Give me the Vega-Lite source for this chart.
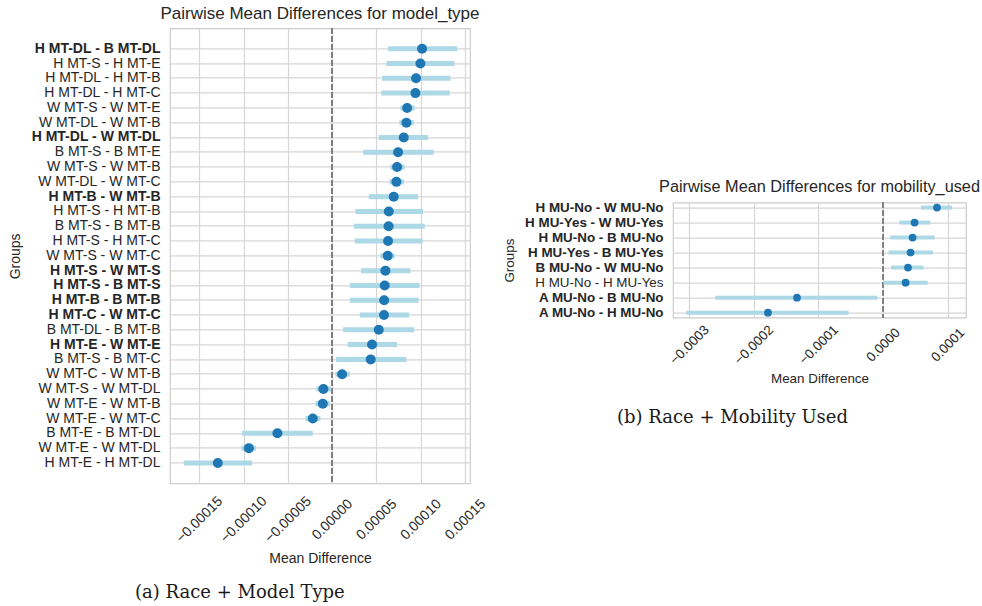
{
  "$schema": "https://vega.github.io/schema/vega-lite/v6.json",
  "padding": {"left": 8, "top": 4, "right": 4, "bottom": 4},
  "background": "white",
  "datasets": {
    "model": [
      {"group": "H MT-DL - B MT-DL", "diff": 1.016e-4, "lo": 6.32e-5, "hi": 1.411e-4},
      {"group": "H MT-S - H MT-E", "diff": 9.97e-5, "lo": 6.13e-5, "hi": 1.381e-4},
      {"group": "H MT-DL - H MT-B", "diff": 9.48e-5, "lo": 5.64e-5, "hi": 1.336e-4},
      {"group": "H MT-DL - H MT-C", "diff": 9.41e-5, "lo": 5.57e-5, "hi": 1.328e-4},
      {"group": "W MT-S - W MT-E", "diff": 8.47e-5, "lo": 7.71e-5, "hi": 9.33e-5},
      {"group": "W MT-DL - W MT-B", "diff": 8.39e-5, "lo": 7.6e-5, "hi": 9.22e-5},
      {"group": "H MT-DL - W MT-DL", "diff": 8.09e-5, "lo": 5.27e-5, "hi": 1.084e-4},
      {"group": "B MT-S - B MT-E", "diff": 7.45e-5, "lo": 3.5e-5, "hi": 1.148e-4},
      {"group": "W MT-S - W MT-B", "diff": 7.34e-5, "lo": 6.58e-5, "hi": 8.2e-5},
      {"group": "W MT-DL - W MT-C", "diff": 7.26e-5, "lo": 6.47e-5, "hi": 8.13e-5},
      {"group": "H MT-B - W MT-B", "diff": 6.96e-5, "lo": 4.14e-5, "hi": 9.71e-5},
      {"group": "H MT-S - H MT-B", "diff": 6.4e-5, "lo": 2.63e-5, "hi": 1.027e-4},
      {"group": "B MT-S - B MT-B", "diff": 6.38e-5, "lo": 2.45e-5, "hi": 1.046e-4},
      {"group": "H MT-S - H MT-C", "diff": 6.32e-5, "lo": 2.56e-5, "hi": 1.023e-4},
      {"group": "W MT-S - W MT-C", "diff": 6.28e-5, "lo": 5.46e-5, "hi": 7.07e-5},
      {"group": "H MT-S - W MT-S", "diff": 6.02e-5, "lo": 3.27e-5, "hi": 8.84e-5},
      {"group": "H MT-S - B MT-S", "diff": 5.94e-5, "lo": 2.0e-5, "hi": 9.86e-5},
      {"group": "H MT-B - B MT-B", "diff": 5.88e-5, "lo": 2.0e-5, "hi": 9.78e-5},
      {"group": "H MT-C - W MT-C", "diff": 5.86e-5, "lo": 3.12e-5, "hi": 8.69e-5},
      {"group": "B MT-DL - B MT-B", "diff": 5.27e-5, "lo": 1.24e-5, "hi": 9.26e-5},
      {"group": "H MT-E - W MT-E", "diff": 4.51e-5, "lo": 1.77e-5, "hi": 7.34e-5},
      {"group": "B MT-S - B MT-C", "diff": 4.36e-5, "lo": 4.5e-6, "hi": 8.39e-5},
      {"group": "W MT-C - W MT-B", "diff": 1.13e-5, "lo": 3.8e-6, "hi": 2.0e-5},
      {"group": "W MT-S - W MT-DL", "diff": -9.8e-6, "lo": -1.77e-5, "hi": -1.1e-6},
      {"group": "W MT-E - W MT-B", "diff": -1.05e-5, "lo": -1.88e-5, "hi": -2.6e-6},
      {"group": "W MT-E - W MT-C", "diff": -2.18e-5, "lo": -3.01e-5, "hi": -1.32e-5},
      {"group": "B MT-E - B MT-DL", "diff": -6.17e-5, "lo": -1.016e-4, "hi": -2.18e-5},
      {"group": "W MT-E - W MT-DL", "diff": -9.4e-5, "lo": -1.024e-4, "hi": -8.58e-5},
      {"group": "H MT-E - H MT-DL", "diff": -1.29e-4, "lo": -1.674e-4, "hi": -9.03e-5}
    ],
    "mobility": [
      {"group": "H MU-No - W MU-No", "diff": 8.36e-5, "lo": 5.88e-5, "hi": 1.068e-4},
      {"group": "H MU-Yes - W MU-Yes", "diff": 4.89e-5, "lo": 2.52e-5, "hi": 7.32e-5},
      {"group": "H MU-No - B MU-No", "diff": 4.58e-5, "lo": 1.13e-5, "hi": 7.99e-5},
      {"group": "H MU-Yes - B MU-Yes", "diff": 4.27e-5, "lo": 8.7e-6, "hi": 7.74e-5},
      {"group": "B MU-No - W MU-No", "diff": 3.87e-5, "lo": 1.28e-5, "hi": 6.28e-5},
      {"group": "H MU-No - H MU-Yes", "diff": 3.5e-5, "lo": 9e-7, "hi": 6.9e-5},
      {"group": "A MU-No - B MU-No", "diff": -1.331e-4, "lo": -2.596e-4, "hi": -8.4e-6},
      {"group": "A MU-No - H MU-No", "diff": -1.78e-4, "lo": -3.045e-4, "hi": -5.32e-5}
    ]
  },
  "config": {
    "font": "Liberation Sans",
    "view": {"stroke": "#cccccc", "strokeWidth": 1.2},
    "axis": {
      "domain": false,
      "ticks": false,
      "gridColor": "#d6d6d6",
      "gridWidth": 1.2,
      "labelColor": "#262626",
      "titleColor": "#262626",
      "labelFont": "Liberation Sans",
      "titleFont": "Liberation Sans",
      "titleFontWeight": "normal",
      "labelFontSize": 14,
      "titleFontSize": 14
    },
    "title": {"font": "Liberation Sans", "fontSize": 17, "fontWeight": "normal", "color": "#262626"}
  },
  "hconcat": [
    {
      "title": {"text": "(a) Race + Model Type", "orient": "bottom", "anchor": "start", "frame": "group", "dx": -35, "offset": 18, "font": "DejaVu Serif", "fontSize": 18, "color": "#1a1a1a"},
      "vconcat": [
        {
          "title": {"text": "Pairwise Mean Differences for model_type", "offset": 5, "anchor": "middle", "frame": "group"},
          "width": 300,
          "height": 455,
          "data": {"name": "model"},
          "encoding": {
            "y": {
              "field": "group", "type": "nominal", "sort": null,
              "scale": {"type": "band", "paddingInner": 0, "paddingOuter": 0.88},
              "axis": {
                "title": "Groups", "labelPadding": 10, "titlePadding": 8, "grid": true,
                "labelFontWeight": {"condition": {"test": "substring(datum.label,0,1) != substring(datum.label, indexof(datum.label,' - ')+3, indexof(datum.label,' - ')+4)", "value": "bold"}, "value": "normal"}
              }
            }
          },
          "layer": [
            {
              "mark": {"type": "rule", "color": "#808080", "strokeDash": [5, 3], "strokeWidth": 1.2},
              "encoding": {"x": {"datum": 0, "type": "quantitative"}, "y": null}
            },
            {
              "mark": {"type": "rule", "color": "#add8e6", "strokeWidth": 5},
              "encoding": {
                "x": {"field": "lo", "type": "quantitative",
                  "scale": {"domain": [-0.000183, 0.0001557], "nice": false, "zero": false},
                  "axis": {"title": "Mean Difference", "values": [-0.00015, -0.0001, -0.00005, 0, 0.00005, 0.0001, 0.00015], "format": ".5f", "labelAngle": -45, "labelAlign": "center", "labelBaseline": "middle", "labelPadding": 36, "labelOverlap": false, "titlePadding": 6, "grid": true}},
                "x2": {"field": "hi"}
              }
            },
            {
              "mark": {"type": "point", "filled": true, "opacity": 1, "color": "#1f77b4", "size": 100},
              "encoding": {"x": {"field": "diff", "type": "quantitative"}}
            }
          ]
        }
      ]
    },
    {
      "title": {"text": "(b) Race + Mobility Used", "orient": "bottom", "anchor": "start", "frame": "group", "dx": -56, "offset": 24, "font": "DejaVu Serif", "fontSize": 18, "color": "#1a1a1a"},
      "vconcat": [
        {
          "title": {"text": "Pairwise Mean Differences for mobility_used", "offset": 5, "anchor": "middle", "frame": "group", "fontSize": 16.3},
          "width": 293,
          "height": 115,
          "data": {"name": "mobility"},
          "encoding": {
            "y": {
              "field": "group", "type": "nominal", "sort": null,
              "scale": {"type": "point", "padding": 0.33},
              "axis": {
                "title": "Groups", "labelPadding": 10, "titlePadding": 8, "grid": true, "labelFontSize": 13.4, "titleFontSize": 13.4,
                "labelFontWeight": {"condition": {"test": "substring(datum.label,0,1) != substring(datum.label, indexof(datum.label,' - ')+3, indexof(datum.label,' - ')+4)", "value": "bold"}, "value": "normal"}
              }
            }
          },
          "layer": [
            {
              "mark": {"type": "rule", "color": "#808080", "strokeDash": [5, 3], "strokeWidth": 1.2},
              "encoding": {"x": {"datum": 0, "type": "quantitative"}, "y": null}
            },
            {
              "mark": {"type": "rule", "color": "#add8e6", "strokeWidth": 4},
              "encoding": {
                "x": {"field": "lo", "type": "quantitative",
                  "scale": {"domain": [-0.000325, 0.0001285], "nice": false, "zero": false},
                  "axis": {"title": "Mean Difference", "values": [-0.0003, -0.0002, -0.0001, 0, 0.0001], "format": ".4f", "labelAngle": -45, "labelAlign": "center", "labelBaseline": "middle", "labelPadding": 27, "labelOverlap": false, "labelFontSize": 13.4, "titleFontSize": 13.4, "titlePadding": 5, "grid": true}},
                "x2": {"field": "hi"}
              }
            },
            {
              "mark": {"type": "point", "filled": true, "opacity": 1, "color": "#1f77b4", "size": 60},
              "encoding": {"x": {"field": "diff", "type": "quantitative"}}
            }
          ]
        }
      ]
    }
  ],
  "spacing": 13,
  "center": true
}
